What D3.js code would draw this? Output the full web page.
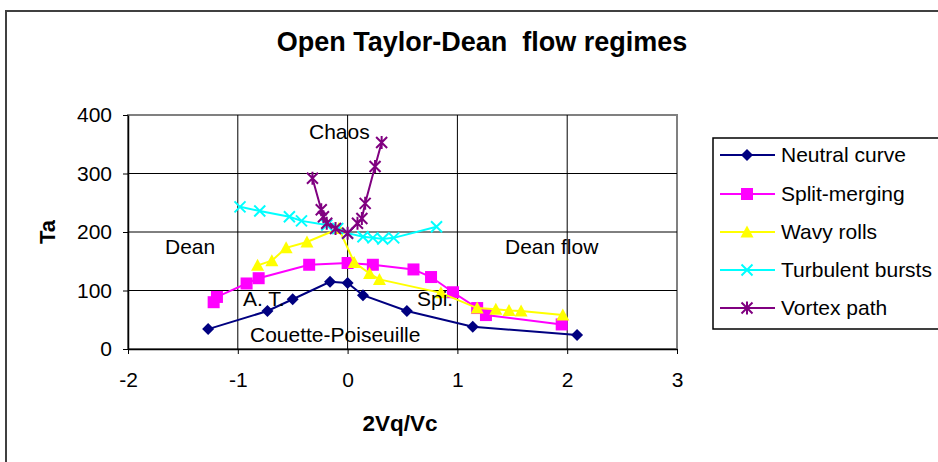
<!DOCTYPE html>
<html><head><meta charset="utf-8">
<script src="https://cdn.jsdelivr.net/npm/d3@7"></script>
<style>body{margin:0;background:#fff}svg{display:block}text{font-family:"Liberation Sans",Arial,sans-serif;white-space:pre}</style>
</head><body><svg id="c" width="938" height="462"></svg>
<script>
const title = "Open Taylor-Dean  flow regimes";
const xLabel = "2Vq/Vc", yLabel = "Ta";
const xTicks = [-2,-1,0,1,2,3];
const yTicks = [0,100,200,300,400];

const neutralX = [-1.27,-0.73,-0.50,-0.16,0.00,0.14,0.54,1.14,2.09];
const neutralY = [34,65,85,115,113,92,65,38,24];
const splitX = [-1.22,-1.19,-0.92,-0.81,-0.35,0.00,0.23,0.60,0.76,0.96,1.18,1.26,1.95];
const splitY = [80,89,112,121,144,147,144,136,123,97,70,58,42];
const wavyX = [-0.82,-0.69,-0.56,-0.37,-0.08,0.06,0.20,0.29,0.85,1.18,1.35,1.47,1.58,1.96];
const wavyY = [143,151,173,183,206,148,129,119,96,70,68,66,65,58];
const turbX = [-0.98,-0.80,-0.53,-0.42,-0.19,-0.09,0.00,0.14,0.23,0.32,0.42,0.81];
const turbY = [243,236,226,219,212,206,198,192,190,188,190,209];
const vortexX = [-0.32,-0.24,-0.22,-0.19,-0.11,0.00,0.09,0.13,0.16,0.25,0.31];
const vortexY = [292,238,226,215,206,198,215,223,249,312,353];

const seriesNames = ["Neutral curve","Split-merging","Wavy rolls","Turbulent bursts","Vortex path"];
const seriesColors = ["#000080","#FF00FF","#FFFF00","#00FFFF","#800080"];
const seriesMarkers = ["diamond","square","triangle","x","star"];
const seriesX = [neutralX,splitX,wavyX,turbX,vortexX];
const seriesY = [neutralY,splitY,wavyY,turbY,vortexY];

const annotations = [
  {t:"Chaos", x:309, y:139},
  {t:"Dean", x:165, y:254},
  {t:"Dean flow", x:505, y:254},
  {t:"A. T.", x:243, y:306},
  {t:"Spi.", x:417, y:306},
  {t:"Couette-Poiseuille", x:250, y:342}
];

const svg = d3.select("#c");
// outer chart border
svg.append("rect").attr("x",6).attr("y",11).attr("width",960).attr("height",480)
  .attr("fill","none").attr("stroke","#404040").attr("stroke-width",2);

const L=128,R=677,T=115,B=349;
const x = d3.scaleLinear().domain([-2,3]).range([L,R]);
const y = d3.scaleLinear().domain([0,400]).range([B,T]);

// plot area border (gray)
svg.append("rect").attr("x",L).attr("y",T).attr("width",R-L).attr("height",B-T)
  .attr("fill","none").attr("stroke","#808080").attr("stroke-width",2);

// gridlines
svg.append("g").selectAll("line").data(yTicks.filter(d=>d>0&&d<400)).join("line")
  .attr("x1",L).attr("x2",R).attr("y1",d=>y(d)).attr("y2",d=>y(d))
  .attr("stroke","#000").attr("stroke-width",1);
svg.append("g").selectAll("line").data(xTicks.filter(d=>d>-2&&d<3)).join("line")
  .attr("y1",T).attr("y2",B).attr("x1",d=>x(d)).attr("x2",d=>x(d))
  .attr("stroke","#000").attr("stroke-width",1);

// axes
const ax = svg.append("g").attr("transform",`translate(0,${B})`)
  .call(d3.axisBottom(x).tickValues(xTicks).tickFormat(d3.format("d")).tickSize(5).tickPadding(18).tickSizeOuter(0));
const ay = svg.append("g").attr("transform",`translate(${L},0)`)
  .call(d3.axisLeft(y).tickValues(yTicks).tickSize(5).tickPadding(11).tickSizeOuter(0));
[ax,ay].forEach(g=>{
  g.select(".domain").attr("stroke","#000").attr("stroke-width",1.5);
  g.selectAll(".tick line").attr("stroke","#000");
  g.selectAll("text").attr("font-size",21).attr("fill","#000").attr("font-family",'"Liberation Sans",Arial,sans-serif');
});
ax.selectAll(".tick text").text(d=>d<0?"-"+Math.abs(d):d);

function marker(g,type,color){
  const r=5.5;
  if(type==="diamond") g.append("path").attr("d",`M0,${-r-0.5}L${r+0.5},0L0,${r+0.5}L${-r-0.5},0Z`).attr("fill",color);
  else if(type==="square") g.append("rect").attr("x",-r-0.5).attr("y",-r-0.5).attr("width",2*r+1).attr("height",2*r+1).attr("fill",color);
  else if(type==="triangle") g.append("path").attr("d",`M0,${-r-1}L${r+1},${r}L${-r-1},${r}Z`).attr("fill",color);
  else if(type==="x") g.append("path").attr("d",`M${-r},${-r}L${r},${r}M${-r},${r}L${r},${-r}`).attr("stroke",color).attr("stroke-width",2);
  else if(type==="star") g.append("path").attr("d",`M${-r},${-r}L${r},${r}M${-r},${r}L${r},${-r}M0,${-r-1}L0,${r+1}`).attr("stroke",color).attr("stroke-width",2);
}

const line = d3.line().x(d=>x(d[0])).y(d=>y(d[1]));
seriesNames.forEach((name,i)=>{
  const pts = seriesX[i].map((v,j)=>[v,seriesY[i][j]]);
  const g = svg.append("g");
  g.append("path").attr("d",line(pts)).attr("fill","none").attr("stroke",seriesColors[i]).attr("stroke-width",2);
  pts.forEach(p=>{ marker(g.append("g").attr("transform",`translate(${x(p[0])},${y(p[1])})`),seriesMarkers[i],seriesColors[i]); });
});

// annotations
svg.append("g").selectAll("text").data(annotations).join("text")
  .attr("x",d=>d.x).attr("y",d=>d.y).attr("font-size",21).attr("fill","#000").text(d=>d.t);

// title & axis titles
svg.append("text").attr("x",482).attr("y",51).attr("text-anchor","middle")
  .attr("font-size",27).attr("font-weight","bold").attr("xml:space","preserve").text(title);
svg.append("text").attr("x",400).attr("y",431).attr("text-anchor","middle")
  .attr("font-size",22.5).attr("font-weight","bold").text(xLabel);
svg.append("text").attr("transform","translate(55,232) rotate(-90)").attr("text-anchor","middle")
  .attr("font-size",22).attr("font-weight","bold").text(yLabel);

// legend
const lg = svg.append("g");
lg.append("rect").attr("x",713).attr("y",138).attr("width",240).attr("height",191)
  .attr("fill","#fff").attr("stroke","#000").attr("stroke-width",1.5);
const legY = [155,194,232,270,308];
seriesNames.forEach((name,i)=>{
  const yy = legY[i];
  lg.append("line").attr("x1",720).attr("x2",775).attr("y1",yy).attr("y2",yy).attr("stroke",seriesColors[i]).attr("stroke-width",2);
  marker(lg.append("g").attr("transform",`translate(747,${yy})`),seriesMarkers[i],seriesColors[i]);
  lg.append("text").attr("x",781).attr("y",yy+7).attr("font-size",21).attr("fill","#000").text(name);
});
</script></body></html>
